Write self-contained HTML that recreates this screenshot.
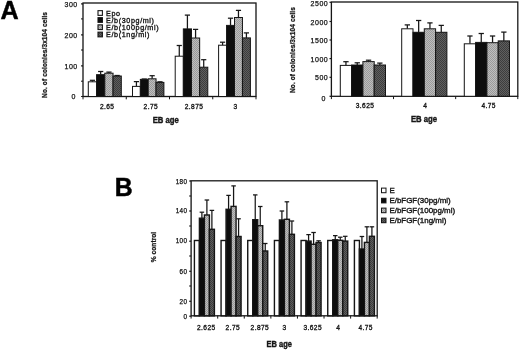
<!DOCTYPE html>
<html lang="en"><head><meta charset="utf-8"><title>Figure</title>
<style>
html,body{margin:0;padding:0;background:#fff;}
body{width:520px;height:350px;overflow:hidden;}
svg{display:block;font-family:'Liberation Sans', sans-serif;}
</style></head>
<body>
<svg width="520" height="350" viewBox="0 0 520 350">
<defs>
<pattern id="pl" width="2" height="2" patternUnits="userSpaceOnUse"><rect width="2" height="2" fill="#bebebe"/><rect width="1" height="1" fill="#9a9a9a"/><rect x="1" y="1" width="1" height="1" fill="#9a9a9a"/></pattern>
<pattern id="pd" width="2" height="2" patternUnits="userSpaceOnUse"><rect width="2" height="2" fill="#5e5e5e"/><rect width="1" height="1" fill="#3c3c3c"/><rect x="1" y="1" width="1" height="1" fill="#3c3c3c"/></pattern>
<filter id="soft" x="0" y="0" width="100%" height="100%" filterUnits="userSpaceOnUse"><feGaussianBlur stdDeviation="0.3"/></filter>
</defs>
<rect width="520" height="350" fill="#ffffff"/>
<g filter="url(#soft)">
<rect x="83.00" y="3.00" width="173.00" height="93.50" fill="none" stroke="#151515" stroke-width="1.3"/>
<line x1="81.10" y1="3.90" x2="83.00" y2="3.90" stroke="#151515" stroke-width="1.2"/>
<text x="77.70" y="7.42" font-size="7" font-weight="normal" text-anchor="end" letter-spacing="0.5" stroke="#151515" stroke-width="0.25" fill="#151515">300</text>
<line x1="81.10" y1="34.90" x2="83.00" y2="34.90" stroke="#151515" stroke-width="1.2"/>
<text x="77.70" y="38.02" font-size="7" font-weight="normal" text-anchor="end" letter-spacing="0.5" stroke="#151515" stroke-width="0.25" fill="#151515">200</text>
<line x1="81.10" y1="65.90" x2="83.00" y2="65.90" stroke="#151515" stroke-width="1.2"/>
<text x="77.70" y="69.02" font-size="7" font-weight="normal" text-anchor="end" letter-spacing="0.5" stroke="#151515" stroke-width="0.25" fill="#151515">100</text>
<line x1="81.10" y1="96.50" x2="83.00" y2="96.50" stroke="#151515" stroke-width="1.2"/>
<text x="75.80" y="99.42" font-size="7" font-weight="normal" text-anchor="end" letter-spacing="0.5" stroke="#151515" stroke-width="0.25" fill="#151515">0</text>
<line x1="81.00" y1="18.90" x2="83.00" y2="18.90" stroke="#151515" stroke-width="1"/>
<line x1="81.00" y1="50.00" x2="83.00" y2="50.00" stroke="#151515" stroke-width="1"/>
<line x1="81.00" y1="81.20" x2="83.00" y2="81.20" stroke="#151515" stroke-width="1"/>
<line x1="83.00" y1="96.50" x2="83.00" y2="99.30" stroke="#151515" stroke-width="1"/>
<line x1="126.25" y1="96.50" x2="126.25" y2="99.30" stroke="#151515" stroke-width="1"/>
<line x1="169.50" y1="96.50" x2="169.50" y2="99.30" stroke="#151515" stroke-width="1"/>
<line x1="212.75" y1="96.50" x2="212.75" y2="99.30" stroke="#151515" stroke-width="1"/>
<line x1="256.00" y1="96.50" x2="256.00" y2="99.30" stroke="#151515" stroke-width="1"/>
<text x="107.21" y="108.90" font-size="6.6" font-weight="normal" text-anchor="middle" letter-spacing="0.42" stroke="#151515" stroke-width="0.32" fill="#151515">2.65</text>
<text x="150.81" y="108.90" font-size="6.6" font-weight="normal" text-anchor="middle" letter-spacing="0.42" stroke="#151515" stroke-width="0.32" fill="#151515">2.75</text>
<text x="194.01" y="108.90" font-size="6.6" font-weight="normal" text-anchor="middle" letter-spacing="0.42" stroke="#151515" stroke-width="0.32" fill="#151515">2.875</text>
<text x="235.61" y="108.90" font-size="6.6" font-weight="normal" text-anchor="middle" letter-spacing="0.42" stroke="#151515" stroke-width="0.32" fill="#151515">3</text>
<text x="0.00" y="0.00" font-size="9.0" font-weight="bold" text-anchor="middle" transform="translate(165.80 122.90) scale(0.86 1)" stroke="#151515" stroke-width="0.4" fill="#151515">EB age</text>
<text x="46.60" y="54.90" font-size="6.5" font-weight="bold" text-anchor="middle" letter-spacing="0.12" transform="rotate(-90 46.60 54.90)" stroke="#151515" stroke-width="0.25" fill="#151515">No. of colonies/3x104 cells</text>
<line x1="92.42" y1="80.30" x2="92.42" y2="81.80" stroke="#151515" stroke-width="1.25"/>
<line x1="89.83" y1="80.30" x2="95.02" y2="80.30" stroke="#151515" stroke-width="1.25"/>
<rect x="88.30" y="81.80" width="8.25" height="14.70" fill="#ffffff" stroke="#151515" stroke-width="1"/>
<line x1="100.67" y1="71.50" x2="100.67" y2="74.70" stroke="#151515" stroke-width="1.25"/>
<line x1="98.08" y1="71.50" x2="103.27" y2="71.50" stroke="#151515" stroke-width="1.25"/>
<rect x="96.55" y="74.70" width="8.25" height="21.80" fill="#0c0c0c" stroke="#151515" stroke-width="1"/>
<line x1="108.92" y1="72.10" x2="108.92" y2="73.20" stroke="#151515" stroke-width="1.25"/>
<line x1="106.33" y1="72.10" x2="111.52" y2="72.10" stroke="#151515" stroke-width="1.25"/>
<rect x="104.80" y="73.20" width="8.25" height="23.30" fill="url(#pl)" stroke="#151515" stroke-width="1"/>
<line x1="117.17" y1="75.50" x2="117.17" y2="76.00" stroke="#151515" stroke-width="1.25"/>
<line x1="114.58" y1="75.50" x2="119.77" y2="75.50" stroke="#151515" stroke-width="1.25"/>
<rect x="113.05" y="76.00" width="8.25" height="20.50" fill="url(#pd)" stroke="#151515" stroke-width="1"/>
<line x1="136.43" y1="81.60" x2="136.43" y2="86.40" stroke="#151515" stroke-width="1.25"/>
<line x1="133.83" y1="81.60" x2="139.03" y2="81.60" stroke="#151515" stroke-width="1.25"/>
<rect x="132.50" y="86.40" width="7.85" height="10.10" fill="#ffffff" stroke="#151515" stroke-width="1"/>
<line x1="144.28" y1="79.00" x2="144.28" y2="79.40" stroke="#151515" stroke-width="1.25"/>
<line x1="141.68" y1="79.00" x2="146.88" y2="79.00" stroke="#151515" stroke-width="1.25"/>
<rect x="140.35" y="79.40" width="7.85" height="17.10" fill="#0c0c0c" stroke="#151515" stroke-width="1"/>
<line x1="152.12" y1="75.70" x2="152.12" y2="78.80" stroke="#151515" stroke-width="1.25"/>
<line x1="149.53" y1="75.70" x2="154.72" y2="75.70" stroke="#151515" stroke-width="1.25"/>
<rect x="148.20" y="78.80" width="7.85" height="17.70" fill="url(#pl)" stroke="#151515" stroke-width="1"/>
<line x1="159.98" y1="81.80" x2="159.98" y2="82.40" stroke="#151515" stroke-width="1.25"/>
<line x1="157.38" y1="81.80" x2="162.58" y2="81.80" stroke="#151515" stroke-width="1.25"/>
<rect x="156.05" y="82.40" width="7.85" height="14.10" fill="url(#pd)" stroke="#151515" stroke-width="1"/>
<line x1="179.27" y1="45.50" x2="179.27" y2="56.20" stroke="#151515" stroke-width="1.25"/>
<line x1="176.67" y1="45.50" x2="181.87" y2="45.50" stroke="#151515" stroke-width="1.25"/>
<rect x="175.20" y="56.20" width="8.15" height="40.30" fill="#ffffff" stroke="#151515" stroke-width="1"/>
<line x1="187.42" y1="15.10" x2="187.42" y2="28.90" stroke="#151515" stroke-width="1.25"/>
<line x1="184.82" y1="15.10" x2="190.02" y2="15.10" stroke="#151515" stroke-width="1.25"/>
<rect x="183.35" y="28.90" width="8.15" height="67.60" fill="#0c0c0c" stroke="#151515" stroke-width="1"/>
<line x1="195.57" y1="29.40" x2="195.57" y2="38.00" stroke="#151515" stroke-width="1.25"/>
<line x1="192.97" y1="29.40" x2="198.17" y2="29.40" stroke="#151515" stroke-width="1.25"/>
<rect x="191.50" y="38.00" width="8.15" height="58.50" fill="url(#pl)" stroke="#151515" stroke-width="1"/>
<line x1="203.72" y1="59.70" x2="203.72" y2="67.20" stroke="#151515" stroke-width="1.25"/>
<line x1="201.12" y1="59.70" x2="206.32" y2="59.70" stroke="#151515" stroke-width="1.25"/>
<rect x="199.65" y="67.20" width="8.15" height="29.30" fill="url(#pd)" stroke="#151515" stroke-width="1"/>
<line x1="222.57" y1="42.20" x2="222.57" y2="45.20" stroke="#151515" stroke-width="1.25"/>
<line x1="219.97" y1="42.20" x2="225.17" y2="42.20" stroke="#151515" stroke-width="1.25"/>
<rect x="218.60" y="45.20" width="7.95" height="51.30" fill="#ffffff" stroke="#151515" stroke-width="1"/>
<line x1="230.52" y1="18.20" x2="230.52" y2="25.40" stroke="#151515" stroke-width="1.25"/>
<line x1="227.92" y1="18.20" x2="233.12" y2="18.20" stroke="#151515" stroke-width="1.25"/>
<rect x="226.55" y="25.40" width="7.95" height="71.10" fill="#0c0c0c" stroke="#151515" stroke-width="1"/>
<line x1="238.47" y1="10.40" x2="238.47" y2="17.50" stroke="#151515" stroke-width="1.25"/>
<line x1="235.88" y1="10.40" x2="241.07" y2="10.40" stroke="#151515" stroke-width="1.25"/>
<rect x="234.50" y="17.50" width="7.95" height="79.00" fill="url(#pl)" stroke="#151515" stroke-width="1"/>
<line x1="246.42" y1="32.90" x2="246.42" y2="37.90" stroke="#151515" stroke-width="1.25"/>
<line x1="243.82" y1="32.90" x2="249.02" y2="32.90" stroke="#151515" stroke-width="1.25"/>
<rect x="242.45" y="37.90" width="7.95" height="58.60" fill="url(#pd)" stroke="#151515" stroke-width="1"/>
<rect x="98" y="10.65" width="4.4" height="4.7" fill="#ffffff" stroke="#151515" stroke-width="1.1"/>
<text x="106.00" y="15.50" font-size="7.2" font-weight="normal" text-anchor="start" letter-spacing="0.62" stroke="#151515" stroke-width="0.34" fill="#151515">Epo</text>
<rect x="98" y="17.65" width="4.4" height="4.7" fill="#0c0c0c" stroke="#151515" stroke-width="1.1"/>
<text x="106.00" y="22.50" font-size="7.2" font-weight="normal" text-anchor="start" letter-spacing="0.62" stroke="#151515" stroke-width="0.34" fill="#151515">E/b(30pg/ml)</text>
<rect x="98" y="24.85" width="4.4" height="4.7" fill="url(#pl)" stroke="#151515" stroke-width="1.1"/>
<text x="106.00" y="29.70" font-size="7.2" font-weight="normal" text-anchor="start" letter-spacing="0.62" stroke="#151515" stroke-width="0.34" fill="#151515">E/b(100pg/ml)</text>
<rect x="98" y="32.15" width="4.4" height="4.7" fill="url(#pd)" stroke="#151515" stroke-width="1.1"/>
<text x="106.00" y="37.00" font-size="7.2" font-weight="normal" text-anchor="start" letter-spacing="0.62" stroke="#151515" stroke-width="0.34" fill="#151515">E/b(1ng/ml)</text>
<rect x="331.40" y="2.00" width="186.40" height="94.30" fill="none" stroke="#151515" stroke-width="1.3"/>
<line x1="329.50" y1="2.30" x2="331.40" y2="2.30" stroke="#151515" stroke-width="1.2"/>
<text x="328.20" y="5.97" font-size="7" font-weight="normal" text-anchor="end" letter-spacing="0.5" stroke="#151515" stroke-width="0.25" fill="#151515">2500</text>
<line x1="329.50" y1="21.50" x2="331.40" y2="21.50" stroke="#151515" stroke-width="1.2"/>
<text x="328.20" y="24.57" font-size="7" font-weight="normal" text-anchor="end" letter-spacing="0.5" stroke="#151515" stroke-width="0.25" fill="#151515">2000</text>
<line x1="329.50" y1="40.00" x2="331.40" y2="40.00" stroke="#151515" stroke-width="1.2"/>
<text x="328.20" y="43.07" font-size="7" font-weight="normal" text-anchor="end" letter-spacing="0.5" stroke="#151515" stroke-width="0.25" fill="#151515">1500</text>
<line x1="329.50" y1="58.60" x2="331.40" y2="58.60" stroke="#151515" stroke-width="1.2"/>
<text x="328.20" y="61.67" font-size="7" font-weight="normal" text-anchor="end" letter-spacing="0.5" stroke="#151515" stroke-width="0.25" fill="#151515">1000</text>
<line x1="329.50" y1="77.30" x2="331.40" y2="77.30" stroke="#151515" stroke-width="1.2"/>
<text x="328.20" y="80.37" font-size="7" font-weight="normal" text-anchor="end" letter-spacing="0.5" stroke="#151515" stroke-width="0.25" fill="#151515">500</text>
<line x1="329.50" y1="96.30" x2="331.40" y2="96.30" stroke="#151515" stroke-width="1.2"/>
<text x="326.00" y="100.57" font-size="7" font-weight="normal" text-anchor="end" letter-spacing="0.5" stroke="#151515" stroke-width="0.25" fill="#151515">0</text>
<line x1="331.40" y1="96.30" x2="331.40" y2="99.10" stroke="#151515" stroke-width="1"/>
<line x1="393.53" y1="96.30" x2="393.53" y2="99.10" stroke="#151515" stroke-width="1"/>
<line x1="455.67" y1="96.30" x2="455.67" y2="99.10" stroke="#151515" stroke-width="1"/>
<line x1="517.80" y1="96.30" x2="517.80" y2="99.10" stroke="#151515" stroke-width="1"/>
<text x="365.01" y="108.30" font-size="6.6" font-weight="normal" text-anchor="middle" letter-spacing="0.42" stroke="#151515" stroke-width="0.32" fill="#151515">3.625</text>
<text x="425.21" y="108.30" font-size="6.6" font-weight="normal" text-anchor="middle" letter-spacing="0.42" stroke="#151515" stroke-width="0.32" fill="#151515">4</text>
<text x="488.71" y="108.30" font-size="6.6" font-weight="normal" text-anchor="middle" letter-spacing="0.42" stroke="#151515" stroke-width="0.32" fill="#151515">4.75</text>
<text x="0.00" y="0.00" font-size="9.0" font-weight="bold" text-anchor="middle" transform="translate(424.00 122.30) scale(0.86 1)" stroke="#151515" stroke-width="0.4" fill="#151515">EB age</text>
<text x="295.30" y="50.00" font-size="6.5" font-weight="bold" text-anchor="middle" letter-spacing="0.12" transform="rotate(-90 295.30 50.00)" stroke="#151515" stroke-width="0.25" fill="#151515">No. of colonies/3x104 cells</text>
<line x1="345.95" y1="61.70" x2="345.95" y2="65.40" stroke="#151515" stroke-width="1.25"/>
<line x1="343.30" y1="61.70" x2="348.60" y2="61.70" stroke="#151515" stroke-width="1.25"/>
<rect x="340.30" y="65.40" width="11.30" height="30.90" fill="#ffffff" stroke="#151515" stroke-width="1"/>
<line x1="357.25" y1="62.80" x2="357.25" y2="65.00" stroke="#151515" stroke-width="1.25"/>
<line x1="354.60" y1="62.80" x2="359.90" y2="62.80" stroke="#151515" stroke-width="1.25"/>
<rect x="351.60" y="65.00" width="11.30" height="31.30" fill="#0c0c0c" stroke="#151515" stroke-width="1"/>
<line x1="368.55" y1="60.20" x2="368.55" y2="61.60" stroke="#151515" stroke-width="1.25"/>
<line x1="365.90" y1="60.20" x2="371.20" y2="60.20" stroke="#151515" stroke-width="1.25"/>
<rect x="362.90" y="61.60" width="11.30" height="34.70" fill="url(#pl)" stroke="#151515" stroke-width="1"/>
<line x1="379.85" y1="63.10" x2="379.85" y2="65.00" stroke="#151515" stroke-width="1.25"/>
<line x1="377.20" y1="63.10" x2="382.50" y2="63.10" stroke="#151515" stroke-width="1.25"/>
<rect x="374.20" y="65.00" width="11.30" height="31.30" fill="url(#pd)" stroke="#151515" stroke-width="1"/>
<line x1="407.35" y1="24.90" x2="407.35" y2="28.80" stroke="#151515" stroke-width="1.25"/>
<line x1="404.70" y1="24.90" x2="410.00" y2="24.90" stroke="#151515" stroke-width="1.25"/>
<rect x="401.70" y="28.80" width="11.30" height="67.50" fill="#ffffff" stroke="#151515" stroke-width="1"/>
<line x1="418.65" y1="20.50" x2="418.65" y2="32.30" stroke="#151515" stroke-width="1.25"/>
<line x1="416.00" y1="20.50" x2="421.30" y2="20.50" stroke="#151515" stroke-width="1.25"/>
<rect x="413.00" y="32.30" width="11.30" height="64.00" fill="#0c0c0c" stroke="#151515" stroke-width="1"/>
<line x1="429.95" y1="22.90" x2="429.95" y2="28.80" stroke="#151515" stroke-width="1.25"/>
<line x1="427.30" y1="22.90" x2="432.60" y2="22.90" stroke="#151515" stroke-width="1.25"/>
<rect x="424.30" y="28.80" width="11.30" height="67.50" fill="url(#pl)" stroke="#151515" stroke-width="1"/>
<line x1="441.25" y1="25.40" x2="441.25" y2="32.30" stroke="#151515" stroke-width="1.25"/>
<line x1="438.60" y1="25.40" x2="443.90" y2="25.40" stroke="#151515" stroke-width="1.25"/>
<rect x="435.60" y="32.30" width="11.30" height="64.00" fill="url(#pd)" stroke="#151515" stroke-width="1"/>
<line x1="469.95" y1="36.00" x2="469.95" y2="43.80" stroke="#151515" stroke-width="1.25"/>
<line x1="467.30" y1="36.00" x2="472.60" y2="36.00" stroke="#151515" stroke-width="1.25"/>
<rect x="464.30" y="43.80" width="11.30" height="52.50" fill="#ffffff" stroke="#151515" stroke-width="1"/>
<line x1="481.25" y1="33.50" x2="481.25" y2="42.40" stroke="#151515" stroke-width="1.25"/>
<line x1="478.60" y1="33.50" x2="483.90" y2="33.50" stroke="#151515" stroke-width="1.25"/>
<rect x="475.60" y="42.40" width="11.30" height="53.90" fill="#0c0c0c" stroke="#151515" stroke-width="1"/>
<line x1="492.55" y1="36.00" x2="492.55" y2="42.70" stroke="#151515" stroke-width="1.25"/>
<line x1="489.90" y1="36.00" x2="495.20" y2="36.00" stroke="#151515" stroke-width="1.25"/>
<rect x="486.90" y="42.70" width="11.30" height="53.60" fill="url(#pl)" stroke="#151515" stroke-width="1"/>
<line x1="503.85" y1="32.10" x2="503.85" y2="40.90" stroke="#151515" stroke-width="1.25"/>
<line x1="501.20" y1="32.10" x2="506.50" y2="32.10" stroke="#151515" stroke-width="1.25"/>
<rect x="498.20" y="40.90" width="11.30" height="55.40" fill="url(#pd)" stroke="#151515" stroke-width="1"/>
<rect x="191.10" y="180.80" width="186.10" height="135.00" fill="none" stroke="#151515" stroke-width="1.3"/>
<line x1="189.20" y1="181.00" x2="191.10" y2="181.00" stroke="#151515" stroke-width="1.2"/>
<text x="187.50" y="184.17" font-size="6.3" font-weight="normal" text-anchor="end" letter-spacing="0.45" stroke="#151515" stroke-width="0.25" fill="#151515">180</text>
<line x1="189.20" y1="211.00" x2="191.10" y2="211.00" stroke="#151515" stroke-width="1.2"/>
<text x="187.50" y="213.27" font-size="6.3" font-weight="normal" text-anchor="end" letter-spacing="0.45" stroke="#151515" stroke-width="0.25" fill="#151515">140</text>
<line x1="189.20" y1="241.20" x2="191.10" y2="241.20" stroke="#151515" stroke-width="1.2"/>
<text x="187.50" y="243.47" font-size="6.3" font-weight="normal" text-anchor="end" letter-spacing="0.45" stroke="#151515" stroke-width="0.25" fill="#151515">100</text>
<line x1="189.20" y1="271.30" x2="191.10" y2="271.30" stroke="#151515" stroke-width="1.2"/>
<text x="187.50" y="273.57" font-size="6.3" font-weight="normal" text-anchor="end" letter-spacing="0.45" stroke="#151515" stroke-width="0.25" fill="#151515">60</text>
<line x1="189.20" y1="301.30" x2="191.10" y2="301.30" stroke="#151515" stroke-width="1.2"/>
<text x="187.50" y="303.57" font-size="6.3" font-weight="normal" text-anchor="end" letter-spacing="0.45" stroke="#151515" stroke-width="0.25" fill="#151515">20</text>
<line x1="189.20" y1="316.20" x2="191.10" y2="316.20" stroke="#151515" stroke-width="1.2"/>
<text x="187.50" y="319.07" font-size="6.3" font-weight="normal" text-anchor="end" letter-spacing="0.45" stroke="#151515" stroke-width="0.25" fill="#151515">0</text>
<line x1="189.10" y1="196.00" x2="191.10" y2="196.00" stroke="#151515" stroke-width="1"/>
<line x1="189.10" y1="226.00" x2="191.10" y2="226.00" stroke="#151515" stroke-width="1"/>
<line x1="189.10" y1="256.00" x2="191.10" y2="256.00" stroke="#151515" stroke-width="1"/>
<line x1="189.10" y1="286.00" x2="191.10" y2="286.00" stroke="#151515" stroke-width="1"/>
<line x1="191.10" y1="315.80" x2="191.10" y2="318.60" stroke="#151515" stroke-width="1"/>
<line x1="217.69" y1="315.80" x2="217.69" y2="318.60" stroke="#151515" stroke-width="1"/>
<line x1="244.27" y1="315.80" x2="244.27" y2="318.60" stroke="#151515" stroke-width="1"/>
<line x1="270.86" y1="315.80" x2="270.86" y2="318.60" stroke="#151515" stroke-width="1"/>
<line x1="297.44" y1="315.80" x2="297.44" y2="318.60" stroke="#151515" stroke-width="1"/>
<line x1="324.03" y1="315.80" x2="324.03" y2="318.60" stroke="#151515" stroke-width="1"/>
<line x1="350.61" y1="315.80" x2="350.61" y2="318.60" stroke="#151515" stroke-width="1"/>
<line x1="377.20" y1="315.80" x2="377.20" y2="318.60" stroke="#151515" stroke-width="1"/>
<text x="206.31" y="329.70" font-size="6.6" font-weight="normal" text-anchor="middle" letter-spacing="0.42" stroke="#151515" stroke-width="0.32" fill="#151515">2.625</text>
<text x="232.81" y="329.70" font-size="6.6" font-weight="normal" text-anchor="middle" letter-spacing="0.42" stroke="#151515" stroke-width="0.32" fill="#151515">2.75</text>
<text x="259.91" y="329.70" font-size="6.6" font-weight="normal" text-anchor="middle" letter-spacing="0.42" stroke="#151515" stroke-width="0.32" fill="#151515">2.875</text>
<text x="284.51" y="329.70" font-size="6.6" font-weight="normal" text-anchor="middle" letter-spacing="0.42" stroke="#151515" stroke-width="0.32" fill="#151515">3</text>
<text x="312.71" y="329.70" font-size="6.6" font-weight="normal" text-anchor="middle" letter-spacing="0.42" stroke="#151515" stroke-width="0.32" fill="#151515">3.625</text>
<text x="338.21" y="329.70" font-size="6.6" font-weight="normal" text-anchor="middle" letter-spacing="0.42" stroke="#151515" stroke-width="0.32" fill="#151515">4</text>
<text x="365.71" y="329.70" font-size="6.6" font-weight="normal" text-anchor="middle" letter-spacing="0.42" stroke="#151515" stroke-width="0.32" fill="#151515">4.75</text>
<text x="0.00" y="0.00" font-size="8.7" font-weight="bold" text-anchor="middle" transform="translate(279.30 347.10) scale(0.86 1)" stroke="#151515" stroke-width="0.4" fill="#151515">EB age</text>
<text x="155.50" y="247.00" font-size="6.6" font-weight="bold" text-anchor="middle" letter-spacing="0.03" transform="rotate(-90 155.50 247.00)" stroke="#151515" stroke-width="0.25" fill="#151515">% control</text>
<rect x="194.40" y="240.50" width="5.00" height="75.30" fill="#ffffff" stroke="#151515" stroke-width="1.4"/>
<line x1="201.90" y1="212.20" x2="201.90" y2="218.20" stroke="#151515" stroke-width="1.25"/>
<line x1="199.65" y1="212.20" x2="204.15" y2="212.20" stroke="#151515" stroke-width="1.25"/>
<rect x="199.40" y="218.20" width="5.00" height="97.60" fill="#0c0c0c" stroke="#151515" stroke-width="1.4"/>
<line x1="206.90" y1="200.00" x2="206.90" y2="215.00" stroke="#151515" stroke-width="1.25"/>
<line x1="204.65" y1="200.00" x2="209.15" y2="200.00" stroke="#151515" stroke-width="1.25"/>
<rect x="204.40" y="215.00" width="5.00" height="100.80" fill="url(#pl)" stroke="#151515" stroke-width="1.4"/>
<line x1="211.90" y1="210.40" x2="211.90" y2="229.30" stroke="#151515" stroke-width="1.25"/>
<line x1="209.65" y1="210.40" x2="214.15" y2="210.40" stroke="#151515" stroke-width="1.25"/>
<rect x="209.40" y="229.30" width="5.00" height="86.50" fill="url(#pd)" stroke="#151515" stroke-width="1.4"/>
<rect x="221.07" y="240.50" width="5.00" height="75.30" fill="#ffffff" stroke="#151515" stroke-width="1.4"/>
<line x1="228.57" y1="195.40" x2="228.57" y2="209.30" stroke="#151515" stroke-width="1.25"/>
<line x1="226.32" y1="195.40" x2="230.82" y2="195.40" stroke="#151515" stroke-width="1.25"/>
<rect x="226.07" y="209.30" width="5.00" height="106.50" fill="#0c0c0c" stroke="#151515" stroke-width="1.4"/>
<line x1="233.57" y1="185.90" x2="233.57" y2="206.40" stroke="#151515" stroke-width="1.25"/>
<line x1="231.32" y1="185.90" x2="235.82" y2="185.90" stroke="#151515" stroke-width="1.25"/>
<rect x="231.07" y="206.40" width="5.00" height="109.40" fill="url(#pl)" stroke="#151515" stroke-width="1.4"/>
<line x1="238.57" y1="218.80" x2="238.57" y2="236.50" stroke="#151515" stroke-width="1.25"/>
<line x1="236.32" y1="218.80" x2="240.82" y2="218.80" stroke="#151515" stroke-width="1.25"/>
<rect x="236.07" y="236.50" width="5.00" height="79.30" fill="url(#pd)" stroke="#151515" stroke-width="1.4"/>
<rect x="247.74" y="240.50" width="5.00" height="75.30" fill="#ffffff" stroke="#151515" stroke-width="1.4"/>
<line x1="255.24" y1="194.90" x2="255.24" y2="219.70" stroke="#151515" stroke-width="1.25"/>
<line x1="252.99" y1="194.90" x2="257.49" y2="194.90" stroke="#151515" stroke-width="1.25"/>
<rect x="252.74" y="219.70" width="5.00" height="96.10" fill="#0c0c0c" stroke="#151515" stroke-width="1.4"/>
<line x1="260.24" y1="206.50" x2="260.24" y2="225.70" stroke="#151515" stroke-width="1.25"/>
<line x1="257.99" y1="206.50" x2="262.49" y2="206.50" stroke="#151515" stroke-width="1.25"/>
<rect x="257.74" y="225.70" width="5.00" height="90.10" fill="url(#pl)" stroke="#151515" stroke-width="1.4"/>
<line x1="265.24" y1="243.50" x2="265.24" y2="251.00" stroke="#151515" stroke-width="1.25"/>
<line x1="262.99" y1="243.50" x2="267.49" y2="243.50" stroke="#151515" stroke-width="1.25"/>
<rect x="262.74" y="251.00" width="5.00" height="64.80" fill="url(#pd)" stroke="#151515" stroke-width="1.4"/>
<rect x="274.41" y="240.50" width="5.00" height="75.30" fill="#ffffff" stroke="#151515" stroke-width="1.4"/>
<line x1="281.91" y1="211.00" x2="281.91" y2="220.00" stroke="#151515" stroke-width="1.25"/>
<line x1="279.66" y1="211.00" x2="284.16" y2="211.00" stroke="#151515" stroke-width="1.25"/>
<rect x="279.41" y="220.00" width="5.00" height="95.80" fill="#0c0c0c" stroke="#151515" stroke-width="1.4"/>
<line x1="286.91" y1="201.80" x2="286.91" y2="219.30" stroke="#151515" stroke-width="1.25"/>
<line x1="284.66" y1="201.80" x2="289.16" y2="201.80" stroke="#151515" stroke-width="1.25"/>
<rect x="284.41" y="219.30" width="5.00" height="96.50" fill="url(#pl)" stroke="#151515" stroke-width="1.4"/>
<line x1="291.91" y1="221.00" x2="291.91" y2="234.30" stroke="#151515" stroke-width="1.25"/>
<line x1="289.66" y1="221.00" x2="294.16" y2="221.00" stroke="#151515" stroke-width="1.25"/>
<rect x="289.41" y="234.30" width="5.00" height="81.50" fill="url(#pd)" stroke="#151515" stroke-width="1.4"/>
<rect x="301.08" y="240.50" width="5.00" height="75.30" fill="#ffffff" stroke="#151515" stroke-width="1.4"/>
<line x1="308.58" y1="234.60" x2="308.58" y2="241.10" stroke="#151515" stroke-width="1.25"/>
<line x1="306.33" y1="234.60" x2="310.83" y2="234.60" stroke="#151515" stroke-width="1.25"/>
<rect x="306.08" y="241.10" width="5.00" height="74.70" fill="#0c0c0c" stroke="#151515" stroke-width="1.4"/>
<line x1="313.58" y1="232.50" x2="313.58" y2="244.30" stroke="#151515" stroke-width="1.25"/>
<line x1="311.33" y1="232.50" x2="315.83" y2="232.50" stroke="#151515" stroke-width="1.25"/>
<rect x="311.08" y="244.30" width="5.00" height="71.50" fill="url(#pl)" stroke="#151515" stroke-width="1.4"/>
<line x1="318.58" y1="240.80" x2="318.58" y2="242.50" stroke="#151515" stroke-width="1.25"/>
<line x1="316.33" y1="240.80" x2="320.83" y2="240.80" stroke="#151515" stroke-width="1.25"/>
<rect x="316.08" y="242.50" width="5.00" height="73.30" fill="url(#pd)" stroke="#151515" stroke-width="1.4"/>
<rect x="327.75" y="240.50" width="5.00" height="75.30" fill="#ffffff" stroke="#151515" stroke-width="1.4"/>
<line x1="335.25" y1="235.60" x2="335.25" y2="239.80" stroke="#151515" stroke-width="1.25"/>
<line x1="333.00" y1="235.60" x2="337.50" y2="235.60" stroke="#151515" stroke-width="1.25"/>
<rect x="332.75" y="239.80" width="5.00" height="76.00" fill="#0c0c0c" stroke="#151515" stroke-width="1.4"/>
<line x1="340.25" y1="237.20" x2="340.25" y2="240.30" stroke="#151515" stroke-width="1.25"/>
<line x1="338.00" y1="237.20" x2="342.50" y2="237.20" stroke="#151515" stroke-width="1.25"/>
<rect x="337.75" y="240.30" width="5.00" height="75.50" fill="url(#pl)" stroke="#151515" stroke-width="1.4"/>
<line x1="345.25" y1="236.30" x2="345.25" y2="241.10" stroke="#151515" stroke-width="1.25"/>
<line x1="343.00" y1="236.30" x2="347.50" y2="236.30" stroke="#151515" stroke-width="1.25"/>
<rect x="342.75" y="241.10" width="5.00" height="74.70" fill="url(#pd)" stroke="#151515" stroke-width="1.4"/>
<rect x="354.42" y="240.50" width="5.00" height="75.30" fill="#ffffff" stroke="#151515" stroke-width="1.4"/>
<line x1="361.92" y1="236.50" x2="361.92" y2="249.00" stroke="#151515" stroke-width="1.25"/>
<line x1="359.67" y1="236.50" x2="364.17" y2="236.50" stroke="#151515" stroke-width="1.25"/>
<rect x="359.42" y="249.00" width="5.00" height="66.80" fill="#0c0c0c" stroke="#151515" stroke-width="1.4"/>
<line x1="366.92" y1="226.80" x2="366.92" y2="242.40" stroke="#151515" stroke-width="1.25"/>
<line x1="364.67" y1="226.80" x2="369.17" y2="226.80" stroke="#151515" stroke-width="1.25"/>
<rect x="364.42" y="242.40" width="5.00" height="73.40" fill="url(#pl)" stroke="#151515" stroke-width="1.4"/>
<line x1="371.92" y1="226.80" x2="371.92" y2="236.30" stroke="#151515" stroke-width="1.25"/>
<line x1="369.67" y1="226.80" x2="374.17" y2="226.80" stroke="#151515" stroke-width="1.25"/>
<rect x="369.42" y="236.30" width="5.00" height="79.50" fill="url(#pd)" stroke="#151515" stroke-width="1.4"/>
<rect x="381.5" y="188.10" width="4.5" height="4.6" fill="#ffffff" stroke="#151515" stroke-width="1"/>
<text x="389.40" y="193.20" font-size="7.95" font-weight="normal" text-anchor="start" stroke="#151515" stroke-width="0.36" fill="#151515">E</text>
<rect x="381.5" y="198.30" width="4.5" height="4.6" fill="#0c0c0c" stroke="#151515" stroke-width="1"/>
<text x="389.40" y="203.40" font-size="7.95" font-weight="normal" text-anchor="start" stroke="#151515" stroke-width="0.36" fill="#151515">E/bFGF(30pg/ml)</text>
<rect x="381.5" y="208.10" width="4.5" height="4.6" fill="url(#pl)" stroke="#151515" stroke-width="1"/>
<text x="389.40" y="213.20" font-size="7.95" font-weight="normal" text-anchor="start" stroke="#151515" stroke-width="0.36" fill="#151515">E/bFGF(100pg/ml)</text>
<rect x="381.5" y="218.10" width="4.5" height="4.6" fill="url(#pd)" stroke="#151515" stroke-width="1"/>
<text x="389.40" y="223.20" font-size="7.95" font-weight="normal" text-anchor="start" stroke="#151515" stroke-width="0.36" fill="#151515">E/bFGF(1ng/ml)</text>
<text x="0.00" y="0.00" font-size="26.2" font-weight="bold" text-anchor="start" transform="translate(0.50 18.60) scale(0.96 1)" stroke="#000" stroke-width="0.45" fill="#000">A</text>
<text x="0.00" y="0.00" font-size="26.0" font-weight="bold" text-anchor="start" transform="translate(114.70 196.10) scale(0.955 1)" stroke="#000" stroke-width="0.5" fill="#000">B</text>
</g>
</svg>
</body></html>
